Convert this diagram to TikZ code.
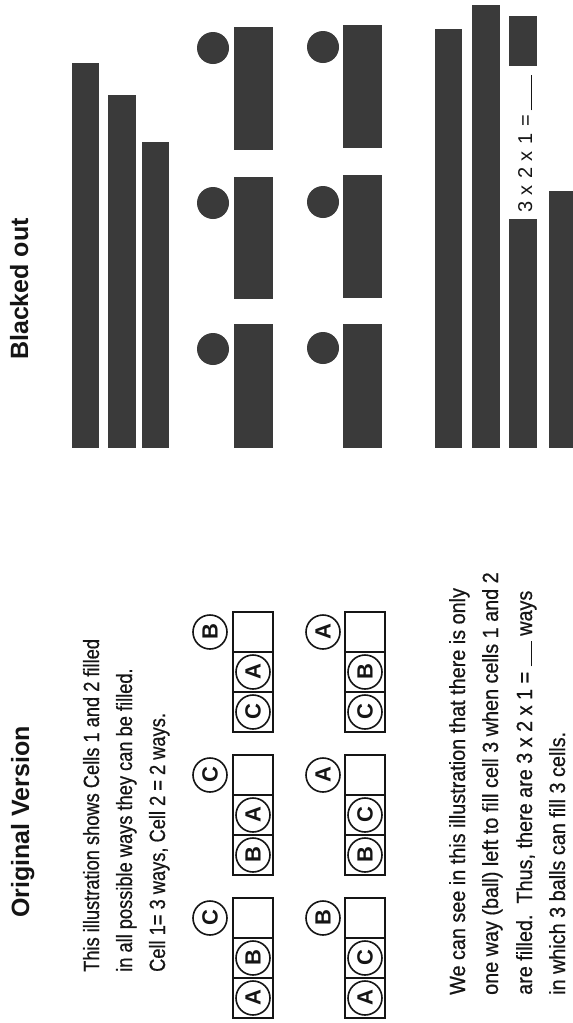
\documentclass[tikz,border=0pt]{standalone}
\usepackage{fontspec}
\setmainfont{Liberation Sans}
\newfontfamily\introfont{Liberation Sans}[FakeStretch=0.83,FakeBold=0.6]
\newfontfamily\notefont{Liberation Sans}[FakeStretch=0.9,FakeBold=0.6]
\usepackage{tikz}
\usetikzlibrary{positioning}
\definecolor{InkGray}{HTML}{3A3A3A}
\definecolor{InkBlack}{HTML}{151515}

\begin{document}
\begin{tikzpicture}[x=1pt,y=-1pt,
  bar/.style={fill=InkGray},
  blot/.style={fill=InkGray},
  cellline/.style={draw=InkBlack,line width=1.6pt},
  letterball/.style={circle,draw=InkBlack,line width=1.6pt,minimum size=34pt,inner sep=0pt,rotate=90,text=InkBlack,font=\bfseries\fontsize{22}{22}\selectfont},
  heading/.style={rotate=90,anchor=base west,inner sep=0pt,text=InkBlack,font=\bfseries\fontsize{25}{25}\selectfont},
  introtext/.style={rotate=90,anchor=base west,inner sep=0pt,text=InkBlack,font=\introfont\fontsize{22}{22}\selectfont},
  notetext/.style={rotate=90,anchor=base west,inner sep=0pt,text=InkBlack,font=\notefont\fontsize{22}{22}\selectfont}]
\fill[white] (0,0) rectangle (573,1023);
\useasboundingbox (0,0) rectangle (573,1023);

\node[heading] (blackhead) at (28,360) {Blacked out};
\fill[bar] (72,63) rectangle (99,448);
\fill[bar] (108,95) rectangle (136,448);
\fill[bar] (142,142) rectangle (169,448);
\fill[blot] (213,48) circle (16);
\fill[blot] (213,203) circle (16);
\fill[blot] (213,349) circle (16);
\fill[bar] (234,27) rectangle (273,150);
\fill[bar] (234,177) rectangle (273,299);
\fill[bar] (234,324) rectangle (273,448);
\fill[blot] (323,47) circle (16);
\fill[blot] (323,202) circle (16);
\fill[blot] (323,348) circle (16);
\fill[bar] (343,25) rectangle (382,148);
\fill[bar] (343,175) rectangle (382,298);
\fill[bar] (343,324) rectangle (382,448);
\fill[bar] (435,29) rectangle (462,448);
\fill[bar] (472,5) rectangle (500,448);
\fill[bar] (509,16) rectangle (537,66);
\fill[bar] (509,219) rectangle (537,448);
\fill[bar] (549,191) rectangle (573,448);
\node[rotate=90,anchor=base west,inner sep=0pt,text=InkBlack,font=\fontsize{20}{20}\selectfont] (product) at (532,213) {3\hspace{6.5pt}x\hspace{6.5pt}2\hspace{6.5pt}x\hspace{6.5pt}1\hspace{6.5pt}=\hspace{5pt}\rule{35pt}{1pt}};

\node[heading] (orighead) at (29,918) {Original Version};
\node[introtext] (intro1) at (99,972) {This illustration shows Cells 1 and 2 filled};
\node[introtext] (intro2) at (132,972) {in all possible ways they can be filled.};
\node[introtext] (intro3) at (165,972) {Cell 1= 3 ways, Cell 2 = 2 ways.};

\draw[cellline] (233,898) rectangle (273,1018) (233,938)--(273,938) (233,978)--(273,978);
\node[letterball] (g1c1) at (253,998) {A};
\node[letterball] (g1c2) at (253,958) {B};
\node[letterball] (g1ball) at (210,918) {C};
\draw[cellline] (233,755) rectangle (273,875) (233,795)--(273,795) (233,835)--(273,835);
\node[letterball] (g2c1) at (253,855) {B};
\node[letterball] (g2c2) at (253,815) {A};
\node[letterball] (g2ball) at (210,775) {C};
\draw[cellline] (233,612) rectangle (273,732) (233,652)--(273,652) (233,692)--(273,692);
\node[letterball] (g3c1) at (253,712) {C};
\node[letterball] (g3c2) at (253,672) {A};
\node[letterball] (g3ball) at (210,632) {B};

\draw[cellline] (345,898) rectangle (385,1018) (345,938)--(385,938) (345,978)--(385,978);
\node[letterball] (g4c1) at (365,998) {A};
\node[letterball] (g4c2) at (365,958) {C};
\node[letterball] (g4ball) at (323,918) {B};
\draw[cellline] (345,755) rectangle (385,875) (345,795)--(385,795) (345,835)--(385,835);
\node[letterball] (g5c1) at (365,855) {B};
\node[letterball] (g5c2) at (365,815) {C};
\node[letterball] (g5ball) at (323,775) {A};
\draw[cellline] (345,612) rectangle (385,732) (345,652)--(385,652) (345,692)--(385,692);
\node[letterball] (g6c1) at (365,712) {C};
\node[letterball] (g6c2) at (365,672) {B};
\node[letterball] (g6ball) at (323,632) {A};

\node[notetext] (note1) at (465,995) {We can see in this illustration that there is only};
\node[notetext] (note2) at (498,995) {one way (ball) left to fill cell 3 when cells 1 and 2};
\node[notetext] (note3) at (532,995) {are filled.\ \ Thus, there are 3 x 2 x 1 = \rule{25pt}{1pt} ways};
\node[notetext] (note4) at (565,995) {in which 3 balls can fill 3 cells.};
\end{tikzpicture}
\end{document}
